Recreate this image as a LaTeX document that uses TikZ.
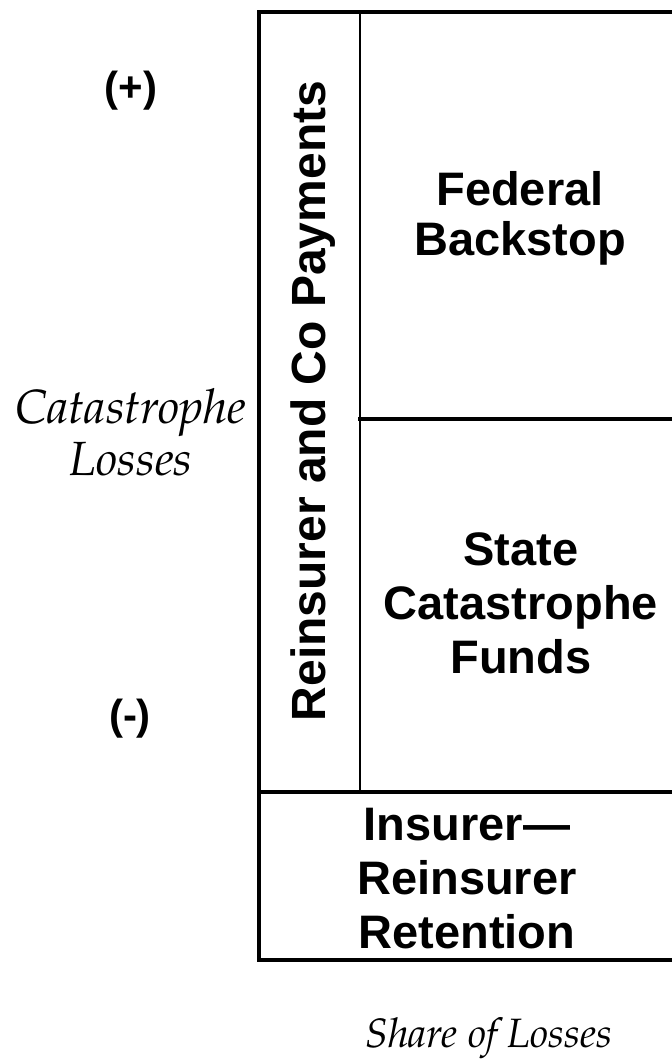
\documentclass[tikz,border=0pt]{standalone}
\usepackage[T1]{fontenc}
\usepackage{fontspec}
\setmainfont{Liberation Sans}
\newcommand{\palit}{\fontencoding{T1}\fontfamily{ppl}\fontseries{m}\fontshape{it}\selectfont}
\begin{document}
\begin{tikzpicture}[x=1pt,y=-1pt,
  boxline/.style={line width=3.5pt,line cap=rect},
  thinline/.style={line width=2.5pt},
  boldlbl/.style={font=\fontsize{47}{50}\selectfont\bfseries,align=center,inner sep=0pt,anchor=base},
  sidelbl/.style={font=\fontsize{42}{44}\selectfont\bfseries,inner sep=0pt,anchor=base},
  itlbl/.style={font=\fontsize{48}{52}\palit,align=center,inner sep=0pt,anchor=base}]
\useasboundingbox (0,0) rectangle (672,1061);
% frame
\coordinate (tl) at (259,12);
\coordinate (tr) at (674,12);
\coordinate (bl) at (259,960);
\coordinate (br) at (674,960);
\coordinate (ml) at (259,792);
\coordinate (mr) at (674,792);
\coordinate (dt) at (360,12);
\coordinate (db) at (360,792);
\coordinate (hl) at (360,419);
\coordinate (hr) at (674,419);
\draw[boxline] (tr) -- (tl) -- (bl) -- (br);
\draw[boxline] (ml) -- (mr);
\draw[boxline] (hl) -- (hr);
\draw[thinline] (dt) -- (db);
% labels
\node[sidelbl] (plus) at (131,101) {(+)};
\node[sidelbl] (minus) at (130,729) {(-)};
\node[itlbl] (cat) at (131,475) {Catastrophe\\Losses};
\node[itlbl,font=\fontsize{41}{44}\palit] (share) at (489,1047) {Share of Losses};
\node[boldlbl,font=\fontsize{48}{50}\selectfont\bfseries,rotate=90] (reins) at (325,401) {Reinsurer and Co Payments};
\node[boldlbl] (fed) at (520,255) {Federal\\Backstop};
\node[boldlbl,font=\fontsize{47}{54}\selectfont\bfseries] (state) at (521,673) {State\\Catastrophe\\Funds};
\node[boldlbl,font=\fontsize{47}{54}\selectfont\bfseries] (ins) at (467,948) {Insurer—\\Reinsurer\\Retention};
\end{tikzpicture}
\end{document}
